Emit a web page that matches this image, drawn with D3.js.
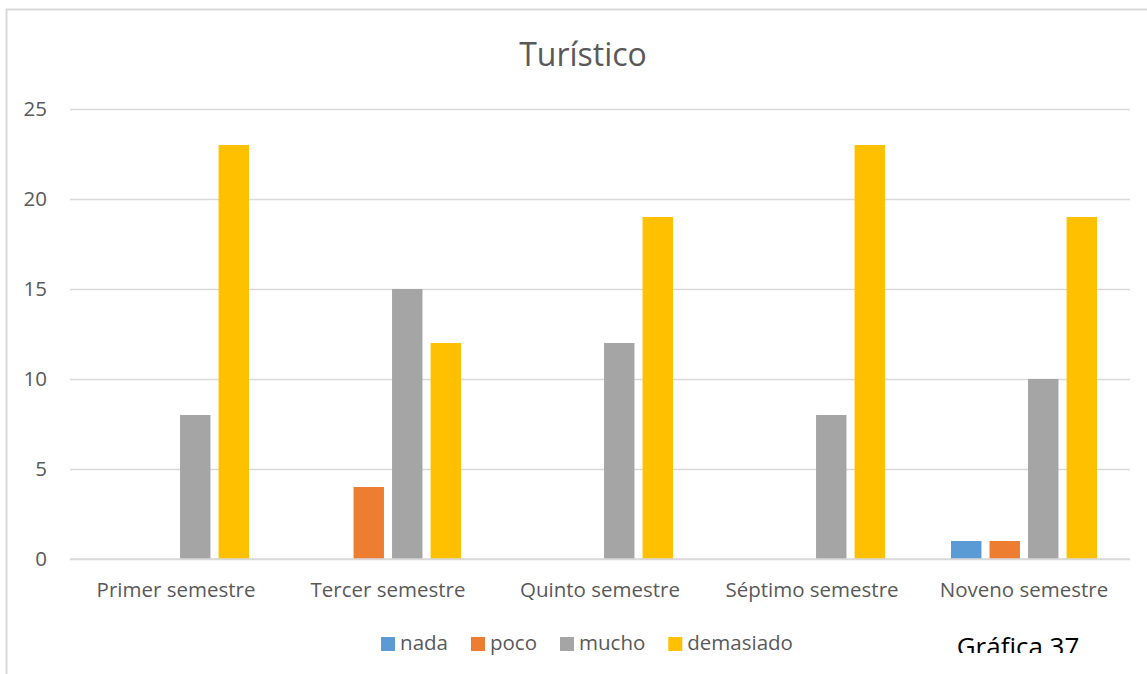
<!DOCTYPE html>
<html>
<head>
<meta charset="utf-8">
<script src="https://cdn.jsdelivr.net/npm/d3@7"></script>
<style>
  html, body { margin: 0; padding: 0; background: #fff; }
  svg { display: block; }
  text { font-family: "Open Sans", "Noto Sans", sans-serif; }
</style>
</head>
<body>
<svg id="chart" width="1147" height="674"></svg>
<script>
const categories = ["Primer semestre", "Tercer semestre", "Quinto semestre", "Séptimo semestre", "Noveno semestre"];
const seriesNames = ["nada", "poco", "mucho", "demasiado"];
const nada = [0, 0, 0, 0, 1];
const poco = [0, 4, 0, 0, 1];
const mucho = [8, 15, 12, 8, 10];
const demasiado = [23, 12, 19, 23, 19];
const yTicks = [0, 5, 10, 15, 20, 25];
const colors = ["#5b9bd5", "#ed7d31", "#a5a5a5", "#ffc000"];
const titleText = "Turístico";
const noteText = "Gráfica 37";

const seriesValues = [nada, poco, mucho, demasiado];
const data = categories.map((c, i) => ({
  cat: c,
  vals: seriesNames.map((s, j) => ({ key: s, value: seriesValues[j][i], color: colors[j] }))
}));

const svg = d3.select("#chart");
const W = 1147, H = 674;
const plot = { left: 70, right: 1130, top: 109, bottom: 559 };
const labelSize = "20.5px";

// outer border
svg.append("rect")
  .attr("x", 6.5).attr("y", 9.5)
  .attr("width", W + 20).attr("height", H + 20)
  .attr("fill", "none").attr("stroke", "#d9d9d9").attr("stroke-width", 2);

const x0 = d3.scaleBand().domain(categories).range([plot.left, plot.right]).padding(0);
const groupW = 146;
const x1 = d3.scaleBand().domain(seriesNames).range([0, groupW]).paddingInner(0.21).paddingOuter(0);
const y = d3.scaleLinear().domain([0, 25]).range([plot.bottom, plot.top]);

// gridlines
const yAxis = d3.axisLeft(y).tickValues(yTicks).tickSize(-(plot.right - plot.left)).tickPadding(23);
const gy = svg.append("g").attr("transform", `translate(${plot.left},0)`).call(yAxis);
gy.select(".domain").remove();
gy.selectAll(".tick line").attr("stroke", "#d9d9d9").attr("stroke-width", 1.5);
gy.selectAll(".tick text").attr("fill", "#595959").style("font-size", labelSize)
  .style("font-family", "'Open Sans', sans-serif");

// bars
const groups = svg.append("g").selectAll("g").data(data).join("g")
  .attr("transform", d => `translate(${x0(d.cat) + x0.bandwidth() / 2 - groupW / 2},0)`);
groups.selectAll("rect").data(d => d.vals.filter(v => v.value > 0)).join("rect")
  .attr("x", d => x1(d.key))
  .attr("width", x1.bandwidth())
  .attr("y", d => y(d.value))
  .attr("height", d => y(0) - y(d.value))
  .attr("fill", d => d.color);

// baseline on top
svg.append("line").attr("x1", plot.left).attr("x2", plot.right)
  .attr("y1", y(0)).attr("y2", y(0)).attr("stroke", "#d9d9d9").attr("stroke-width", 1.5);

// x labels
const xAxis = d3.axisBottom(x0).tickSize(0).tickPadding(23);
const gx = svg.append("g").attr("transform", `translate(0,${plot.bottom})`).call(xAxis);
gx.select(".domain").remove();
gx.selectAll(".tick text").attr("fill", "#595959").style("font-size", labelSize)
  .style("font-family", "'Open Sans', sans-serif");

// title
svg.append("text").attr("x", 583).attr("y", 66).attr("text-anchor", "middle")
  .attr("fill", "#595959").style("font-size", "32px").text(titleText);

// legend
const legend = svg.append("g");
const items = legend.selectAll("g").data(seriesNames).join("g");
items.append("rect").attr("width", 14).attr("height", 14).attr("y", 637)
  .attr("fill", (d, i) => colors[i]);
items.append("text").attr("x", 19).attr("y", 650).attr("fill", "#595959")
  .style("font-size", labelSize).text(d => d);
let widths = [];
items.each(function () { widths.push(19 + this.querySelector("text").getComputedTextLength()); });
const gap = 23;
const total = d3.sum(widths) + gap * (widths.length - 1);
let cx = 587 - total / 2;
items.attr("transform", (d, i) => { const t = `translate(${cx},0)`; cx += widths[i] + gap; return t; });

// clipped note
svg.append("clipPath").attr("id", "noteclip").append("rect")
  .attr("x", 0).attr("y", 0).attr("width", W).attr("height", 653);
svg.append("text").attr("x", 1018).attr("y", 656).attr("text-anchor", "middle")
  .attr("clip-path", "url(#noteclip)")
  .attr("fill", "#000").style("font-size", "26px").text(noteText);
</script>
</body>
</html>
